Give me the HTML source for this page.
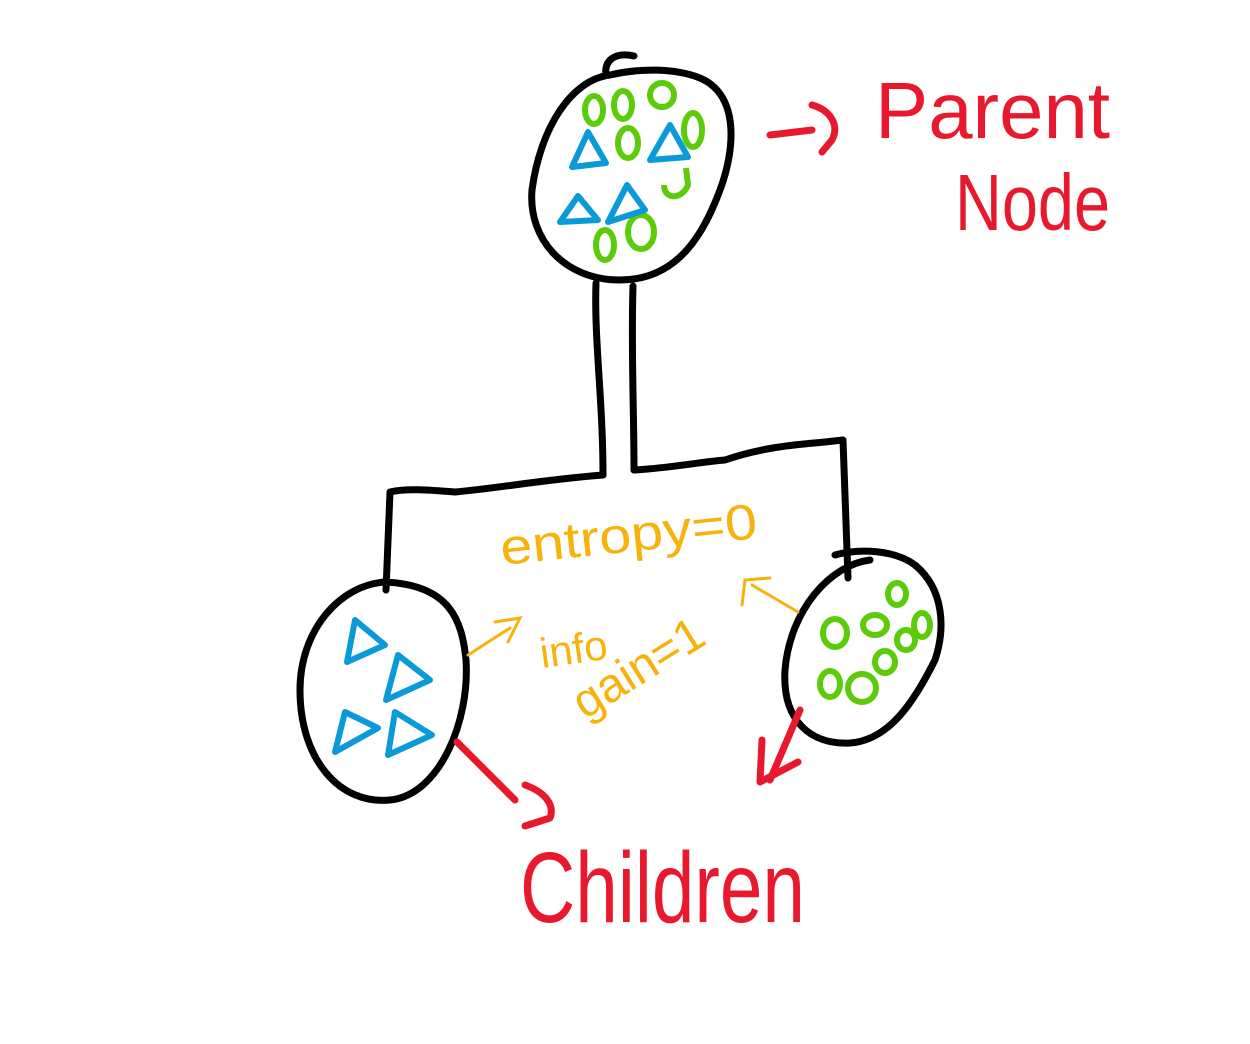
<!DOCTYPE html>
<html><head><meta charset="utf-8"><style>
html,body{margin:0;padding:0;background:#fff;}
svg{display:block;}
text{font-family:"Liberation Sans",sans-serif;}
</style></head><body>
<svg width="1250" height="1044" viewBox="0 0 1250 1044" xmlns="http://www.w3.org/2000/svg">
<rect width="1250" height="1044" fill="#fff"/>
<g fill="none" stroke="#000" stroke-width="7" stroke-linecap="round" stroke-linejoin="round">
<path d="M610,75 C570,80 540,130 532,190 C528,240 565,280 620,280 C680,280 705,230 720,190 C735,150 740,95 700,78 C675,68 640,68 610,75 Z"/>
<path d="M606,75 C604,60 615,52 634,56"/>
<path d="M596,283 C594,340 603,400 603,475"/>
<path d="M633,286 C631,350 634,410 634,470"/>
<path d="M603,475 C540,480 500,488 455,492 C430,490 405,488 390,492 L386,590"/>
<path d="M634,470 C670,468 700,462 725,460 C760,448 790,445 825,442 L843,440 L848,578"/>
<path d="M385,582 C340,585 300,630 300,690 C300,760 340,805 390,800 C440,795 470,720 466,660 C462,620 450,585 385,582 Z"/>
<path d="M870,560 C830,565 790,610 785,670 C782,720 810,745 850,743 C890,740 915,700 935,660 C945,630 945,590 915,565 C895,550 860,548 835,555"/>
</g>
<g fill="none" stroke="#5ccb0a" stroke-width="6">
<ellipse cx="594" cy="110" rx="9" ry="14"/><ellipse cx="623" cy="105" rx="9" ry="14"/>
<ellipse cx="662" cy="95" rx="12" ry="12"/><ellipse cx="628" cy="143" rx="10" ry="15"/>
<ellipse cx="693" cy="130" rx="9" ry="17"/><ellipse cx="641" cy="232" rx="13" ry="17"/>
<ellipse cx="605" cy="245" rx="9" ry="15"/>
<path d="M664,185 C664,200 682,200 688,185 L686,168"/>
<ellipse cx="897" cy="594" rx="9" ry="11"/><ellipse cx="875" cy="625" rx="12" ry="10"/>
<ellipse cx="835" cy="633" rx="12" ry="14"/><ellipse cx="922" cy="625" rx="8" ry="12"/>
<ellipse cx="906" cy="640" rx="9" ry="10"/><ellipse cx="885" cy="662" rx="10" ry="11"/>
<ellipse cx="862" cy="688" rx="14" ry="14"/><ellipse cx="830" cy="684" rx="10" ry="13"/>
</g>
<g fill="none" stroke="#0a9ad8" stroke-width="6" stroke-linejoin="round">
<path d="M588,132 L572,167 L606,163 Z"/><path d="M670,125 L650,160 L688,157 Z"/>
<path d="M578,196 L560,222 L598,220 Z"/><path d="M627,185 L608,222 L645,210 Z"/>
<path d="M355,620 L347,662 L385,645 Z"/><path d="M398,655 L386,700 L430,680 Z"/>
<path d="M345,712 L335,752 L378,728 Z"/><path d="M395,712 L388,755 L432,735 Z"/>
</g>
<g fill="none" stroke="#e8192c" stroke-width="7" stroke-linecap="round" stroke-linejoin="round">
<path d="M770,135 L812,130"/><path d="M812,105 C830,110 840,125 832,140 L822,152"/>
<path d="M457,742 L515,800"/><path d="M525,785 C545,792 555,805 550,818 L525,826"/>
<path d="M800,710 L770,780"/><path d="M762,740 L760,782 L798,762"/>
</g>
<g fill="none" stroke="#f7b20c" stroke-width="3" stroke-linecap="round">
<path d="M468,655 L510,628"/><path d="M495,622 L520,618 L508,642"/>
<path d="M798,612 L752,585"/><path d="M742,605 L745,580 L770,578"/>
</g>
<text x="875" y="138" font-size="80" fill="#e8192c" textLength="235" lengthAdjust="spacingAndGlyphs">Parent</text>
<text x="955" y="230" font-size="80" fill="#e8192c" textLength="155" lengthAdjust="spacingAndGlyphs">Node</text>
<text x="520" y="922" font-size="100" fill="#e8192c" textLength="285" lengthAdjust="spacingAndGlyphs">Children</text>
<text x="502" y="565" font-size="50" fill="#f7b20c" transform="rotate(-6 502 565)" textLength="258" lengthAdjust="spacingAndGlyphs">entropy=0</text>
<text x="542" y="668" font-size="42" fill="#f7b20c" transform="rotate(-8 542 668)">info</text>
<text x="585" y="720" font-size="48" fill="#f7b20c" transform="rotate(-32 585 720)">gain=1</text>
</svg>
</body></html>
